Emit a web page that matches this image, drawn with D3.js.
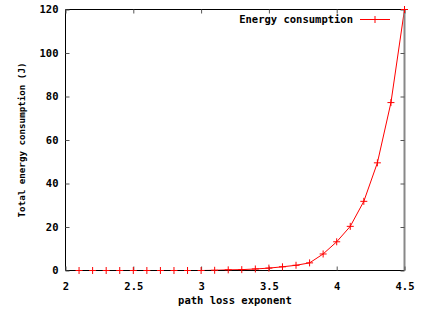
<!DOCTYPE html>
<html>
<head>
<meta charset="utf-8">
<script src="https://cdn.jsdelivr.net/npm/d3@7"></script>
<style>
  body { margin: 0; background: #fff; }
  text { font-family: "DejaVu Sans Mono", monospace; font-weight: bold; fill: #000; }
</style>
</head>
<body>
<svg id="chart" width="422" height="311"></svg>
<script>
// path loss exponent vs. total energy (J)
const exponents = [2.1, 2.2, 2.3, 2.4, 2.5, 2.6, 2.7, 2.8, 2.9, 3.0, 3.1, 3.2, 3.3,
                   3.4, 3.5, 3.6, 3.7, 3.8, 3.9, 4.0, 4.1, 4.2, 4.3, 4.4, 4.5];
const energy = [0, 0, 0, 0, 0, 0, 0, 0, 0, 0, 0.1, 0.3, 0.4,
                0.7, 1.1, 1.7, 2.4, 3.5, 7.6, 13.2, 20.3, 31.8, 49.5, 77.2, 120];
const xTicks = [2, 2.5, 3, 3.5, 4, 4.5];
const yTicks = [0, 20, 40, 60, 80, 100, 120];

const svg = d3.select("#chart");
const L = 65.5, R = 404.5, T = 9.5, B = 270.5;

const x = d3.scaleLinear().domain([2, 4.5]).range([L, R]);
const y = d3.scaleLinear().domain([0, 120]).range([B, T]);

// data line
const line = d3.line().x((d, i) => x(exponents[i])).y(d => y(d));
svg.append("path").datum(energy)
  .attr("d", line).attr("fill", "none")
  .attr("stroke", "#ff0000").attr("stroke-width", 1);

// border (gnuplot style, ticks inward and mirrored)
svg.append("line").attr("x1", L).attr("x2", R).attr("y1", T).attr("y2", T).attr("stroke", "#000");
svg.append("line").attr("x1", L).attr("x2", R).attr("y1", B).attr("y2", B).attr("stroke", "#000");
svg.append("line").attr("x1", L).attr("x2", L).attr("y1", T).attr("y2", B).attr("stroke", "#000");
svg.append("line").attr("x1", R).attr("x2", R).attr("y1", T).attr("y2", B).attr("stroke", "#888").attr("stroke-width", 2);

const xAxis = svg.append("g").attr("transform", `translate(0,${B})`)
  .call(d3.axisBottom(x).tickValues(xTicks).tickSizeInner(-4).tickSizeOuter(0).tickFormat(d3.format("")));
const xTop = svg.append("g").attr("transform", `translate(0,${T})`)
  .call(d3.axisTop(x).tickValues(xTicks).tickSizeInner(-4).tickSizeOuter(0).tickFormat(""));
const yAxis = svg.append("g").attr("transform", `translate(${L},0)`)
  .call(d3.axisLeft(y).tickValues(yTicks).tickSizeInner(-4).tickSizeOuter(0));
const yRight = svg.append("g").attr("transform", `translate(${R},0)`)
  .call(d3.axisRight(y).tickValues(yTicks).tickSizeInner(-4).tickSizeOuter(0).tickFormat(""));

[xAxis, xTop, yAxis, yRight].forEach(a => {
  a.select(".domain").remove();
  a.selectAll("line").attr("stroke", "#555");
  a.selectAll("text").attr("font-family", null).attr("font-size", null)
    .style("font-size", "10.5px");
});
xAxis.selectAll("text").attr("y", 12).attr("dy", "0.71em");
yAxis.selectAll("text").attr("x", -7);

// points (+ markers)
const plus = (g, cx, cy) => {
  g.append("line").attr("x1", cx - 3.5).attr("x2", cx + 3.5).attr("y1", cy).attr("y2", cy);
  g.append("line").attr("x1", cx).attr("x2", cx).attr("y1", cy - 3.5).attr("y2", cy + 3.5);
};
const pts = svg.append("g").attr("stroke", "#ff0000").attr("stroke-width", 1);
energy.forEach((v, i) => plus(pts, x(exponents[i]), y(v)));

// axis titles
svg.append("text").attr("x", (L + R) / 2).attr("y", 304)
  .attr("text-anchor", "middle").style("font-size", "10.5px")
  .text("path loss exponent");
svg.append("text").attr("transform", `translate(25,${(T + B) / 2}) rotate(-90)`)
  .attr("text-anchor", "middle").style("font-size", "9.2px")
  .text("Total energy consumption (J)");

// legend
const legY = 19.5;
svg.append("text").attr("x", 353).attr("y", legY).attr("dy", "0.35em")
  .attr("text-anchor", "end").style("font-size", "10.5px")
  .text("Energy consumption");
const leg = svg.append("g").attr("stroke", "#ff0000");
leg.append("line").attr("x1", 360).attr("x2", 390).attr("y1", legY).attr("y2", legY);
plus(leg, 375, legY);
</script>
</body>
</html>
